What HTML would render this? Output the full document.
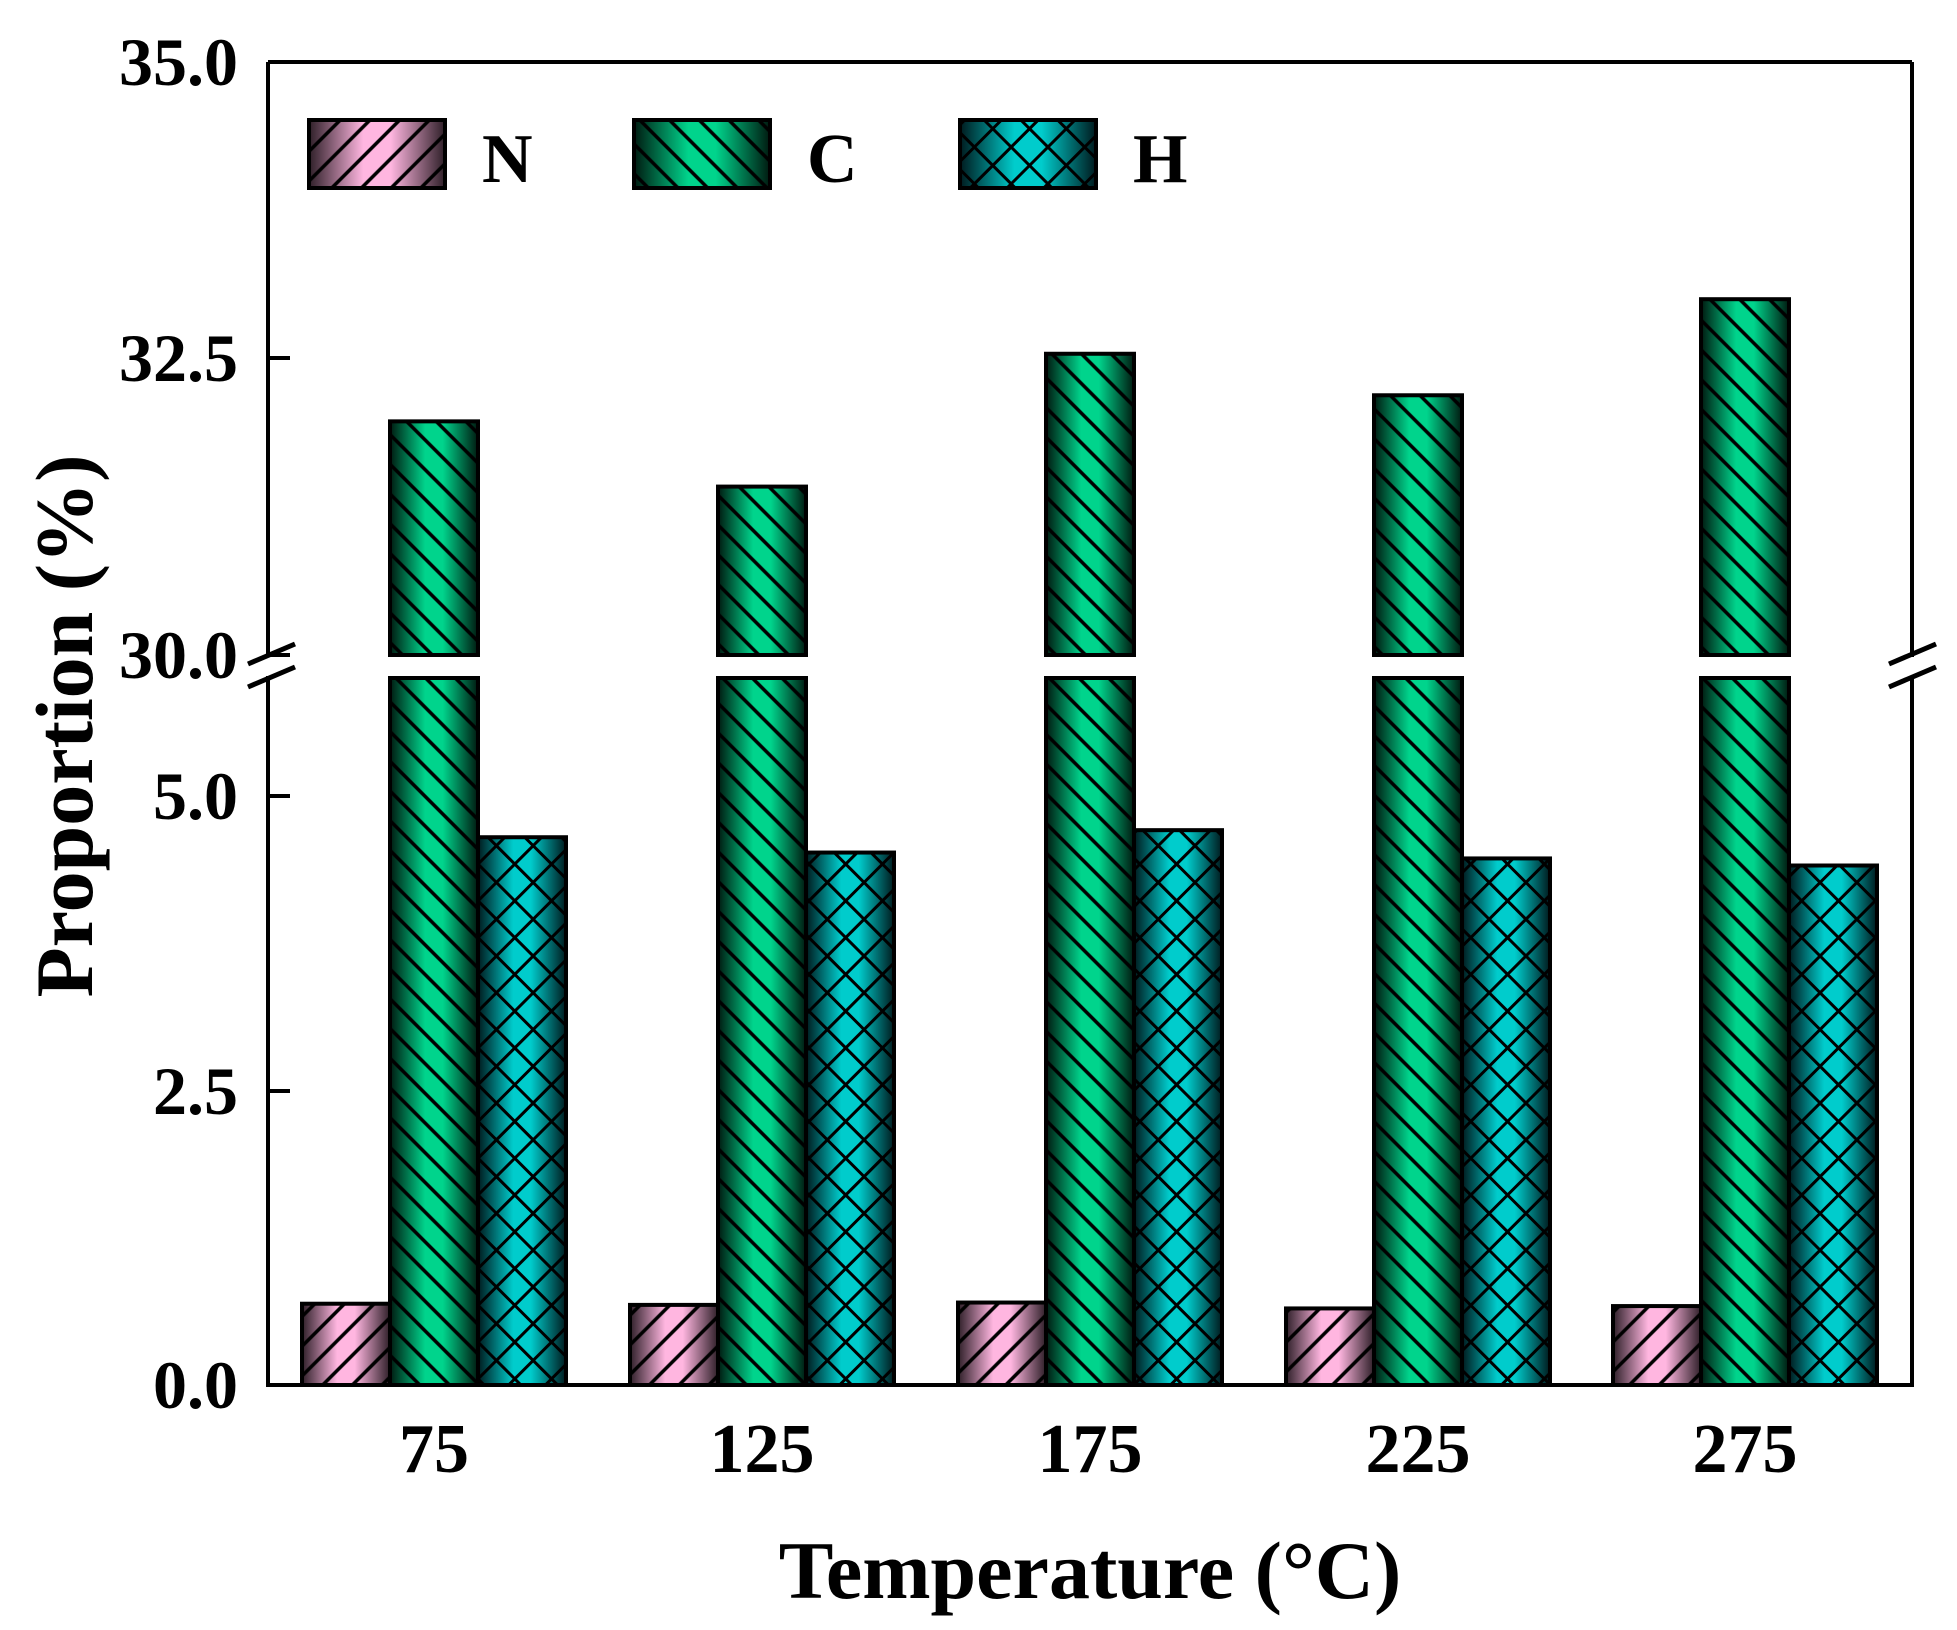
<!DOCTYPE html>
<html><head><meta charset="utf-8"><style>html,body{margin:0;padding:0;background:#fff}svg{display:block}</style></head>
<body>
<svg xmlns="http://www.w3.org/2000/svg" width="1957" height="1630" viewBox="0 0 1957 1630">
<defs>
<linearGradient id="gN" x1="0" x2="1" y1="0" y2="0"><stop offset="0" stop-color="#2e1f28"/><stop offset="0.4" stop-color="#ffb6e0"/><stop offset="0.6" stop-color="#ffb6e0"/><stop offset="1" stop-color="#2e1f28"/></linearGradient>
<linearGradient id="gC" x1="0" x2="1" y1="0" y2="0"><stop offset="0" stop-color="#001a10"/><stop offset="0.4" stop-color="#00d48c"/><stop offset="0.6" stop-color="#00d48c"/><stop offset="1" stop-color="#001a10"/></linearGradient>
<linearGradient id="gH" x1="0" x2="1" y1="0" y2="0"><stop offset="0" stop-color="#001a1e"/><stop offset="0.4" stop-color="#00cccc"/><stop offset="0.6" stop-color="#00cccc"/><stop offset="1" stop-color="#001a1e"/></linearGradient>
<pattern id="pN" width="21" height="21" patternUnits="userSpaceOnUse" patternTransform="rotate(45)"><line x1="10.5" y1="0" x2="10.5" y2="21" stroke="#000" stroke-width="3.5"/></pattern>
<pattern id="pC" width="21" height="21" patternUnits="userSpaceOnUse" patternTransform="rotate(-45)"><line x1="10.5" y1="0" x2="10.5" y2="21" stroke="#000" stroke-width="3.5"/></pattern>
<pattern id="pH1" width="26" height="26" patternUnits="userSpaceOnUse" patternTransform="rotate(45)"><line x1="13" y1="0" x2="13" y2="26" stroke="#000" stroke-width="3"/></pattern>
<pattern id="pH2" width="26" height="26" patternUnits="userSpaceOnUse" patternTransform="rotate(-45)"><line x1="13" y1="0" x2="13" y2="26" stroke="#000" stroke-width="3"/></pattern>
</defs>
<g id="bars"></g>
<g stroke="#000" stroke-width="4" fill="none">
<line x1="268" y1="62" x2="1912" y2="62"/>
<line x1="268" y1="62" x2="268" y2="657"/>
<line x1="268" y1="676" x2="268" y2="1387"/>
<line x1="1912" y1="62" x2="1912" y2="657"/>
<line x1="1912" y1="676" x2="1912" y2="1387"/>
<line x1="266" y1="1385" x2="1914" y2="1385"/>
<line x1="268" y1="62" x2="290" y2="62"/><line x1="268" y1="358" x2="290" y2="358"/><line x1="268" y1="655" x2="290" y2="655"/>
<line x1="268" y1="796" x2="290" y2="796"/><line x1="268" y1="1091" x2="290" y2="1091"/>
<line x1="248" y1="664" x2="295" y2="644" stroke-width="5"/><line x1="248" y1="687" x2="295" y2="667" stroke-width="5"/>
<line x1="1889" y1="664" x2="1936" y2="644" stroke-width="5"/><line x1="1889" y1="687" x2="1936" y2="667" stroke-width="5"/>
</g>
<g font-family="Liberation Serif, serif" font-weight="bold" font-size="68" fill="#000">
<g text-anchor="end">
<text x="238" y="85">35.0</text><text x="238" y="381">32.5</text><text x="238" y="678">30.0</text>
<text x="238" y="819">5.0</text><text x="238" y="1114">2.5</text><text x="238" y="1408">0.0</text>
</g>
<g text-anchor="middle" font-size="70">
<text x="434" y="1472">75</text><text x="762" y="1472">125</text><text x="1090" y="1472">175</text><text x="1418" y="1472">225</text><text x="1745" y="1472">275</text>
</g>
<g font-size="70"><text x="482" y="182">N</text><text x="807" y="182">C</text><text x="1133" y="182">H</text></g>
<text x="1090" y="1598" text-anchor="middle" font-size="82">Temperature (°C)</text>
<text transform="translate(92,726) rotate(-90)" text-anchor="middle" font-size="82">Proportion (%)</text>
</g>
<script>
(function(){
var g=document.getElementById('bars'),ns='http://www.w3.org/2000/svg';
function ry(v){return v<=10?1385-v*117.8:655-(v-30)*118.6;}
function rect(x,y,w,h,fill,extra){var r=document.createElementNS(ns,'rect');r.setAttribute('x',x);r.setAttribute('y',y);r.setAttribute('width',w);r.setAttribute('height',h);r.setAttribute('fill',fill);if(extra){r.setAttribute('stroke','#000');r.setAttribute('stroke-width','4');}g.appendChild(r);}
function bar(x,y0,y1,w,k){rect(x,y0,w,y1-y0,'url(#g'+k+')');if(k=='H'){rect(x,y0,w,y1-y0,'url(#pH1)');rect(x,y0,w,y1-y0,'url(#pH2)');}else rect(x,y0,w,y1-y0,'url(#p'+k+')');rect(x,y0,w,y1-y0,'none',1);}
var N=[0.69,0.68,0.70,0.65,0.67],C=[31.97,31.42,32.54,32.19,33.0],H=[4.65,4.52,4.71,4.47,4.41];
var cx=[434,762,1090,1418,1745],w=88;
for(var i=0;i<5;i++){
 var l=cx[i]-132;
 bar(l,ry(N[i]),1385,w,'N');
 bar(l+w,ry(C[i]),655,w,'C');
 bar(l+w,678,1385,w,'C');
 bar(l+2*w,ry(H[i]),1385,w,'H');
}
bar(309,120,188,136,'N');bar(634,120,188,136,'C');bar(960,120,188,136,'H');
})();
</script>
</svg>
</body></html>
